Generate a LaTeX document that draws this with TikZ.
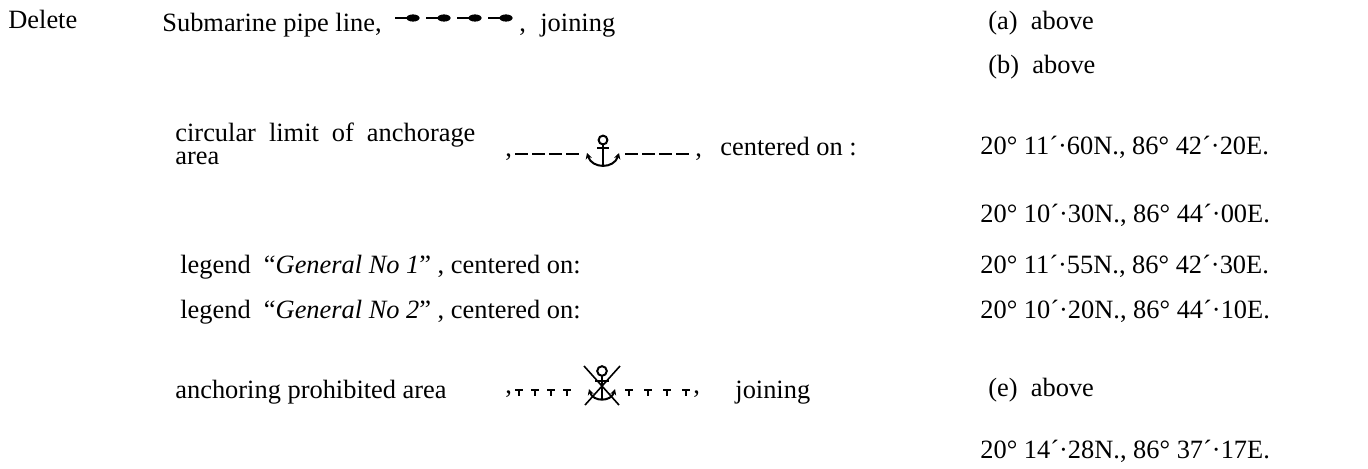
\documentclass[tikz,border=0pt]{standalone}
\usepackage{fontspec}
\setmainfont{Liberation Serif}
\usetikzlibrary{arrows.meta}
\begin{document}
\begin{tikzpicture}[x=0.5pt,y=-0.5pt,
    txt/.style={anchor=base west,inner sep=0pt,font=\fontsize{13.2}{11}\selectfont},
    dashline/.style={line width=0.7pt,dash pattern=on 6.5pt off 2pt},
    anchorline/.style={line width=1pt}]
\useasboundingbox (0,0) rectangle (1368,468);
% first entry
\node[txt] (del) at (8,28) {Delete};
\node[txt] (sub) at (162,31) {Submarine pipe line,};
\foreach \i in {0,...,3} {
    \draw[line width=0.9pt] (395+31*\i,18) -- (408+31*\i,18);
    \fill (413+31*\i,18) ellipse (3.3pt and 1.8pt);
}
\node[txt] (subc) at (519,31) {,};
\node[txt] (subj) at (540,31) {joining};
\node[txt] (ra) at (988,29) {(a)\ \ above};
\node[txt] (rb) at (988,73) {(b)\ \ above};
% circular limit
\node[txt] (circ1) at (175,141) {\makebox[150pt][s]{circular limit of anchorage}};
\node[txt] (circ2) at (175,164) {area};
\node[txt] (circc1) at (505,156) {,};
\draw[dashline] (515,154) -- (579,154);
\draw[anchorline] (603,140) circle (2.2pt);
\draw[anchorline] (603,144.5) -- (603,167);
\draw[anchorline] (597,147.5) -- (609,147.5);
\draw[anchorline,{Stealth[length=3pt,width=3.2pt]}-{Stealth[length=3pt,width=3.2pt]}] (587,153) .. controls (592,169) and (614,169) .. (619,153);
\draw[dashline] (625,154) -- (689,154);
\node[txt] (circc2) at (695,156) {,};
\node[txt] (circon) at (720,155) {centered on :};
\node[txt] (p1) at (980,154) {20° 11´·60N., 86° 42´·20E.};
\node[txt] (p2) at (980,222) {20° 10´·30N., 86° 44´·00E.};
% legends
\node[txt] (leg1) at (180,273) {legend\ \ “\textit{General No 1}” , centered on:};
\node[txt] (p3) at (980,273) {20° 11´·55N., 86° 42´·30E.};
\node[txt] (leg2) at (180,318) {legend\ \ “\textit{General No 2}” , centered on:};
\node[txt] (p4) at (980,318) {20° 10´·20N., 86° 44´·10E.};
% anchoring prohibited
\node[txt] (proh) at (175,398) {anchoring prohibited area};
\node[txt] (prohc1) at (505,393) {,};
\foreach \x in {519,535,551,567,629,648,667,686} {
    \draw[line width=0.7pt] (\x-4,390) -- (\x+4,390);
    \draw[line width=0.7pt] (\x,390) -- (\x,396);
}
\draw[anchorline] (602,371) circle (2.4pt);
\draw[anchorline] (602,376) -- (602,400);
\draw[anchorline] (595,381) -- (609,381);
\draw[anchorline,{Stealth[length=3pt,width=3pt]}-{Stealth[length=3pt,width=3pt]}] (589,389) .. controls (593,402) and (611,402) .. (615,389);
\draw[line width=0.8pt] (584,366) -- (619,405);
\draw[line width=0.8pt] (620,366) -- (585,405);
\node[txt] (prohc2) at (693,393) {,};
\node[txt] (prohj) at (735,398) {joining};
\node[txt] (re) at (988,396) {(e)\ \ above};
\node[txt] (p5) at (980,458) {20° 14´·28N., 86° 37´·17E.};
\end{tikzpicture}
\end{document}
